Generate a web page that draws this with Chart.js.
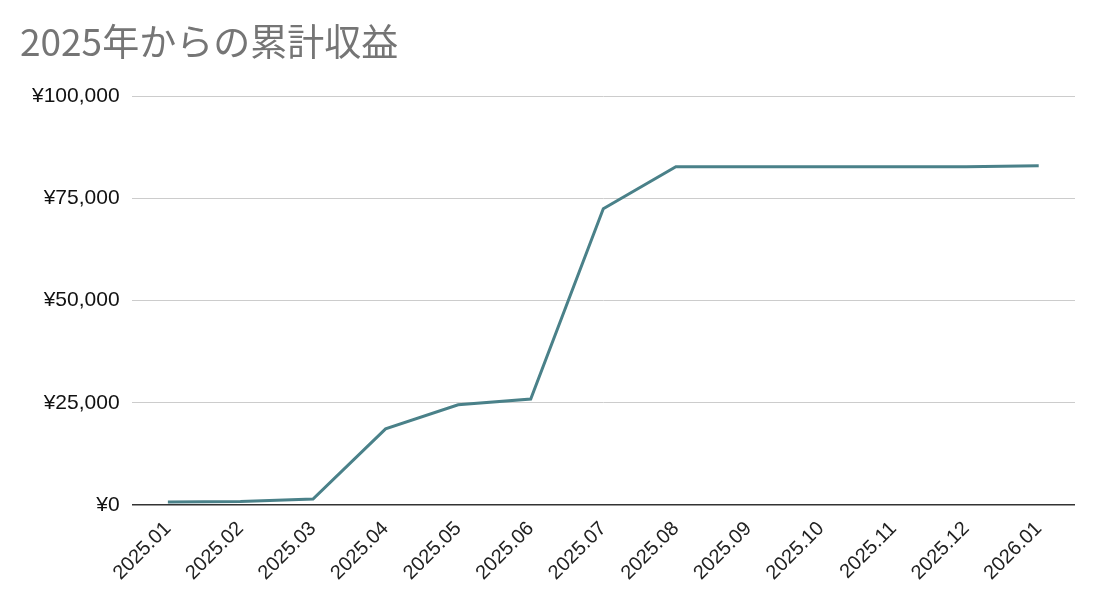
<!DOCTYPE html>
<html lang="ja">
<head>
<meta charset="utf-8">
<script src="https://cdn.jsdelivr.net/npm/chart.js@4/dist/chart.umd.min.js"></script>
<style>
  html, body { margin: 0; padding: 0; background: #fff; }
  #wrap { width: 1100px; height: 607px; }
</style>
</head>
<body>
<div id="wrap"><canvas id="myChart" width="1100" height="607"></canvas></div>
<script>
// data
const months = ['2025.01', '2025.02', '2025.03', '2025.04', '2025.05', '2025.06', '2025.07',
                '2025.08', '2025.09', '2025.10', '2025.11', '2025.12', '2026.01'];
const profit = [700, 850, 1450, 18600, 24500, 25900, 72500,
                82800, 82800, 82800, 82800, 82800, 83000];
const yTicks = [0, 25000, 50000, 75000, 100000];

const title = '2025年からの累計収益';

function yen(v){
    return '¥' + v.toLocaleString('en-US');
}

const data = {
    labels: months,
    datasets: [{
        label: title,
        data: profit,
        borderColor: '#4a8189',
        backgroundColor: '#4a8189',
        borderWidth: 3,
        pointRadius: 0,
        tension: 0
    }]
};

const config = {
    type: 'line',
    data: data,
    options: {
        responsive: false,
        animation: false,
        layout: { padding: { left: 20, right: 25, top: 20, bottom: 18 } },
        plugins: {
            legend: { display: false },
            tooltip: { enabled: false },
            title: {
                display: true,
                text: title,
                align: 'start',
                color: '#757575',
                font: { family: '"Noto Sans CJK JP", "Liberation Sans", sans-serif', size: 37, weight: 'normal' },
                padding: { top: 0, bottom: 32 }
            }
        },
        scales: {
            x: {
                offset: true,
                grid: { display: false },
                border: { display: false },
                ticks: {
                    color: '#222',
                    font: { family: '"Liberation Sans", Arial, sans-serif', size: 20 },
                    minRotation: 45,
                    maxRotation: 45,
                    padding: 4,
                    autoSkip: false
                }
            },
            y: {
                min: 0,
                max: 100000,
                afterBuildTicks: function(axis){
                    axis.ticks = yTicks.map(function(v){ return { value: v }; });
                },
                grid: {
                    drawTicks: false,
                    color: function(ctx){ return ctx.tick && ctx.tick.value === 0 ? '#333' : '#cccccc'; },
                    lineWidth: function(ctx){ return ctx.tick && ctx.tick.value === 0 ? 1.5 : 1; }
                },
                border: { display: false },
                ticks: {
                    color: '#111',
                    font: { family: '"Liberation Sans", Arial, sans-serif', size: 21 },
                    padding: 12,
                    callback: function(v){ return yen(v); }
                }
            }
        }
    }
};

const myChart = new Chart(document.getElementById('myChart'), config);
</script>
</body>
</html>
